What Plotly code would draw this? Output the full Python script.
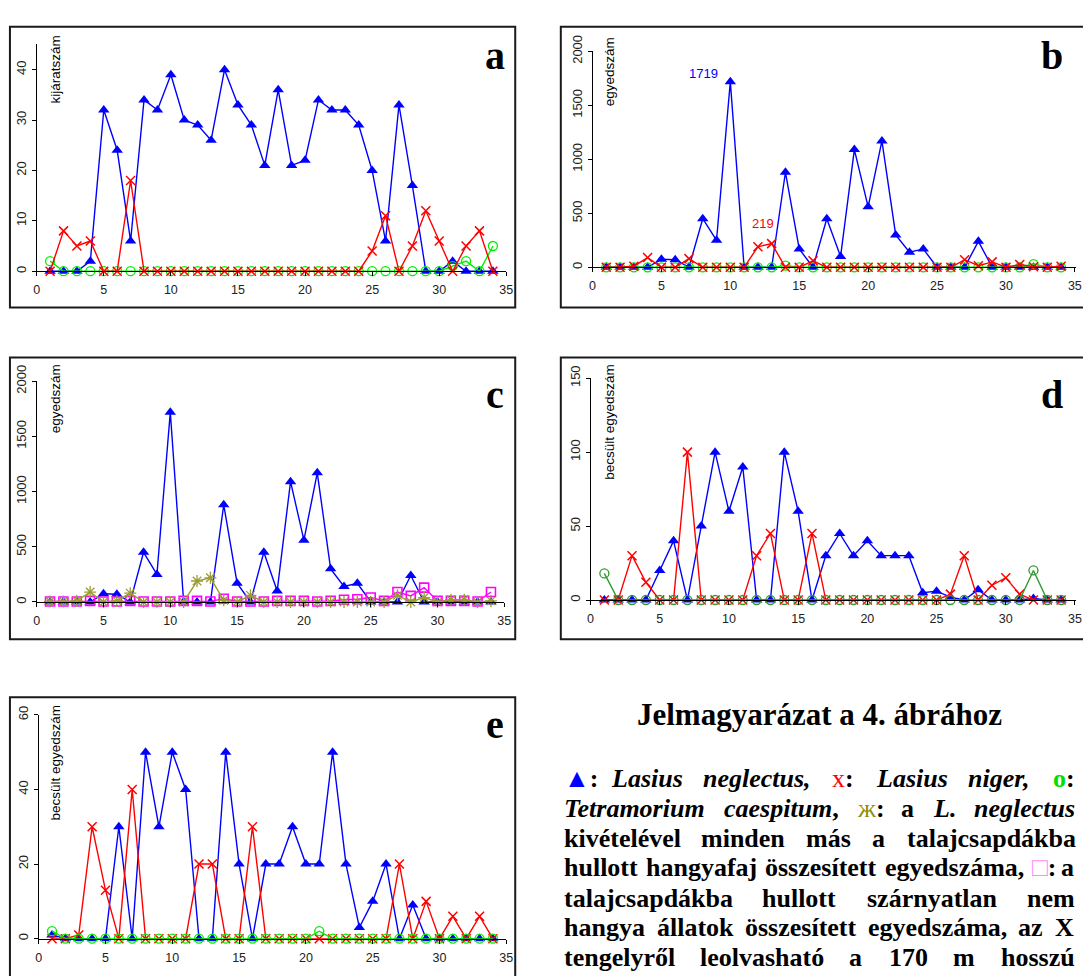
import plotly.graph_objects as go

# ---------------- data ----------------
positions = list(range(1, 35))
x_ticks = [0, 5, 10, 15, 20, 25, 30, 35]

# panel a: kijáratszám (nest entrances)
a_neglectus = [0, 0, 0, 2, 32, 24, 6, 34, 32, 39, 30, 29, 26, 40, 33, 29, 21, 36, 21, 22, 34, 32, 32, 29, 20, 6, 33, 17, 0, 0, 2, 0, 0, 0]
a_niger = [0, 8, 5, 6, 0, 0, 18, 0, 0, 0, 0, 0, 0, 0, 0, 0, 0, 0, 0, 0, 0, 0, 0, 0, 4, 11, 0, 5, 12, 6, 0, 5, 8, 0]
a_tetramorium = [2, 0, 0, 0, 0, 0, 0, 0, 0, 0, 0, 0, 0, 0, 0, 0, 0, 0, 0, 0, 0, 0, 0, 0, 0, 0, 0, 0, 0, 0, 1, 2, 0, 5]

# panel b: egyedszám (pitfall traps)
b_neglectus = [0, 0, 0, 0, 75, 70, 0, 450, 250, 1719, 0, 0, 0, 880, 170, 0, 450, 100, 1090, 560, 1170, 300, 140, 170, 0, 0, 0, 240, 0, 0, 0, 0, 0, 0]
b_niger = [0, 0, 10, 90, 0, 0, 80, 0, 0, 0, 0, 190, 219, 0, 0, 60, 0, 0, 0, 0, 0, 0, 0, 0, 0, 0, 70, 15, 50, 0, 25, 5, 0, 10]
b_tetramorium = [0, 0, 0, 0, 0, 0, 0, 0, 0, 0, 0, 0, 0, 15, 0, 0, 0, 0, 0, 0, 0, 0, 0, 0, 0, 0, 0, 0, 0, 0, 0, 30, 0, 0]

# panel c: egyedszám
c_neglectus = b_neglectus
c_other_ants = [5, 5, 10, 90, 0, 10, 80, 0, 0, 0, 0, 190, 219, 15, 0, 60, 0, 0, 0, 0, 0, 0, 0, 0, 0, 0, 60, 0, 40, 0, 20, 20, 0, 10]
c_non_ants = [5, 5, 5, 10, 5, 5, 10, 5, 5, 5, 10, 10, 5, 30, 5, 5, 5, 10, 10, 10, 5, 10, 20, 25, 40, 10, 90, 55, 130, 10, 10, 10, 5, 90]

# panel d: becsült egyedszám
d_neglectus = [0, 0, 0, 0, 20, 40, 0, 50, 100, 60, 90, 0, 0, 100, 60, 0, 30, 45, 30, 40, 30, 30, 30, 5, 6, 2, 0, 7, 0, 0, 0, 1, 0, 0]
d_niger = [0, 0, 30, 12, 0, 0, 100, 0, 0, 0, 0, 30, 45, 0, 0, 45, 0, 0, 0, 0, 0, 0, 0, 0, 0, 4, 30, 0, 10, 15, 4, 0, 0, 0]
d_tetramorium = [18, 0, 0, 0, 0, 0, 0, 0, 0, 0, 0, 0, 0, 0, 0, 0, 0, 0, 0, 0, 0, 0, 0, 0, 0, 0, 0, 0, 0, 0, 0, 20, 0, 0]

# panel e: becsült egyedszám
e_neglectus = [1, 0, 0, 0, 0, 30, 0, 50, 30, 50, 40, 0, 0, 50, 20, 0, 20, 20, 30, 20, 20, 50, 20, 3, 10, 20, 0, 9, 0, 0, 0, 0, 0, 0]
e_niger = [0, 0, 1, 30, 13, 0, 40, 0, 0, 0, 0, 20, 20, 0, 0, 30, 0, 0, 0, 0, 0, 0, 0, 0, 0, 0, 20, 0, 10, 0, 6, 0, 6, 0]
e_tetramorium = [2, 0, 0, 0, 0, 0, 0, 0, 0, 0, 0, 0, 0, 0, 0, 0, 0, 0, 0, 0, 2, 0, 0, 0, 0, 0, 0, 0, 0, 0, 0, 0, 0, 0]

y_titles = ["kijáratszám", "egyedszám", "egyedszám", "becsült egyedszám", "becsült egyedszám"]
panel_letters = ["a", "b", "c", "d", "e"]
y_ticks = [[0, 10, 20, 30, 40], [0, 500, 1000, 1500, 2000], [0, 500, 1000, 1500, 2000], [0, 50, 100, 150], [0, 20, 40, 60]]

legend_title = "Jelmagyarázat a 4. ábrához"
# legend words: list of segments (text, style, colour); style b = bold, bi = bold italic, r = regular
legend_words = [
    [[("▲", "sym", "#0000ff"), (":", "b", "black")], [("Lasius", "bi", "black")], [("neglectus,", "bi", "black")],
     [("x", "r", "#ff0000"), (":", "b", "black")], [("Lasius", "bi", "black")], [("niger,", "bi", "black")],
     [("o", "b", "#00dd00"), (":", "b", "black")]],
    [[("Tetramorium", "bi", "black")], [("caespitum", "bi", "black"), (",", "b", "black")],
     [("ж", "r", "#8f8f10"), (":", "b", "black")], [("a", "b", "black")], [("L.", "bi", "black")],
     [("neglectus", "bi", "black")]],
    [[("kivételével", "b", "black")], [("minden", "b", "black")], [("más", "b", "black")], [("a", "b", "black")],
     [("talajcsapdákba", "b", "black")]],
    [[("hullott", "b", "black")], [("hangyafaj", "b", "black")], [("összesített", "b", "black")],
     [("egyedszáma,", "b", "black")], [("□", "box", "#ff88ff"), (":", "b", "black")], [("a", "b", "black")]],
    [[("talajcsapdákba", "b", "black")], [("hullott", "b", "black")], [("szárnyatlan", "b", "black")],
     [("nem", "b", "black")]],
    [[("hangya", "b", "black")], [("állatok", "b", "black")], [("összesített", "b", "black")],
     [("egyedszáma,", "b", "black")], [("az", "b", "black")], [("X", "b", "black")]],
    [[("tengelyről", "b", "black")], [("leolvasható", "b", "black")], [("a", "b", "black")], [("170", "b", "black")],
     [("m", "b", "black")], [("hosszú", "b", "black")]],
]

# ---------------- layout helpers ----------------
W, H = 1083, 976
def px(v):
    return v / W
def py(v):
    return 1 - v / H

BLUE = "#0000ff"
RED = "#ff0000"
GREEN = "#00ee00"
DGREEN = "#2f9a2f"
OLIVE = "#9c9c30"
MAGENTA = "#ff00ff"

panels = [
    dict(xl=34, xr=508, xmax=35, yb=260, yt=29, ymax=45, frame=(7, 11, 517, 297), letter=(497, 55), ytitle=(53, 55)),
    dict(xl=595, xr=1083, xmax=(1083 - 595) / 13.91, yb=256, yt=36, ymax=2000, frame=(563, 11, 1100, 297), letter=(1059, 55), ytitle=(613, 57)),
    dict(xl=34, xr=506, xmax=35, yb=597, yt=372, ymax=2000, frame=(7, 348, 517, 635), letter=(497, 400), ytitle=(53, 390)),
    dict(xl=593, xr=1083, xmax=(1083 - 593) / 13.97, yb=595, yt=369, ymax=150, frame=(563, 348, 1100, 635), letter=(1059, 400), ytitle=(612, 413)),
    dict(xl=36, xr=508, xmax=35, yb=940, yt=712, ymax=60, frame=(7, 694, 517, 995), letter=(497, 736), ytitle=(53, 761)),
]

series = [
    [(a_neglectus, "tri", BLUE), (a_tetramorium, "circ", GREEN), (a_niger, "x", RED)],
    [(b_neglectus, "tri", BLUE), (b_tetramorium, "circ", GREEN), (b_niger, "x", RED)],
    [(c_neglectus, "tri", BLUE), (c_non_ants, "sq", MAGENTA), (c_other_ants, "ast", OLIVE)],
    [(d_neglectus, "tri", BLUE), (d_niger, "x", RED), (d_tetramorium, "circ", DGREEN)],
    [(e_neglectus, "tri", BLUE), (e_niger, "x", RED), (e_tetramorium, "circ", GREEN)],
]

def marker_for(kind, color):
    if kind == "tri":
        return dict(symbol="triangle-up", size=10, color=color, line=dict(width=0))
    if kind == "x":
        return dict(symbol="x-thin-open", size=9, color=color, line=dict(width=1.5, color=color))
    if kind == "circ":
        return dict(symbol="circle-open", size=9, color=color, line=dict(width=1.3, color=color))
    if kind == "ast":
        return dict(symbol="asterisk-open", size=10, color=color, line=dict(width=1.3, color=color))
    return dict(symbol="square-open", size=9, color=color, line=dict(width=1.6, color=color))

fig = go.Figure()
layout = dict(
    width=W, height=H, margin=dict(l=0, r=0, t=0, b=0),
    paper_bgcolor="white", plot_bgcolor="white", showlegend=False,
)
shapes = []
annotations = []
TICKFONT_X = dict(family="Liberation Sans, Arial, sans-serif", size=12.5, color="#222")
TICKFONT_Y = dict(family="Liberation Sans, Arial, sans-serif", size=13, color="#222")

for i, p in enumerate(panels):
    n = i + 1
    xa = "xaxis" if n == 1 else f"xaxis{n}"
    ya = "yaxis" if n == 1 else f"yaxis{n}"
    xr = "x" if n == 1 else f"x{n}"
    yr = "y" if n == 1 else f"y{n}"
    layout[xa] = dict(
        domain=[px(p["xl"]), px(p["xr"])], range=[0, p["xmax"]], anchor=yr,
        tickvals=x_ticks, ticks="outside", ticklen=4, tickwidth=1, tickcolor="black",
        showline=True, linecolor="black", linewidth=1, showgrid=False, zeroline=False,
        tickfont=TICKFONT_X, ticklabelstandoff=3, ticklabeloverflow="allow", fixedrange=True,
    )
    layout[ya] = dict(
        domain=[py(p["yb"]), py(p["yt"])], range=[0, p["ymax"]], anchor=xr,
        tickvals=y_ticks[i], ticks="outside", ticklen=4, tickwidth=1, tickcolor="black",
        showline=True, linecolor="black", linewidth=1, showgrid=False, zeroline=False,
        tickfont=TICKFONT_Y, tickangle=-90, fixedrange=True,
    )
    for vals, kind, color in series[i]:
        fig.add_trace(go.Scatter(
            x=positions, y=vals, xaxis=xr, yaxis=yr, mode="lines+markers",
            line=dict(color=color, width=1.4), marker=marker_for(kind, color),
            cliponaxis=False, hoverinfo="skip",
        ))
    fx0, fy0, fx1, fy1 = p["frame"]
    shapes.append(dict(type="rect", xref="paper", yref="paper",
                       x0=px(fx0), x1=px(fx1), y0=py(fy1), y1=py(fy0),
                       line=dict(color="#1a1a1a", width=2), fillcolor="rgba(0,0,0,0)", layer="above"))
    lx, lb = p["letter"]
    annotations.append(dict(text=f"<b>{panel_letters[i]}</b>", xref="paper", yref="paper",
                            x=px(lx), y=py(lb + 8.6), xanchor="center", yanchor="bottom",
                            showarrow=False, borderpad=0, borderwidth=0,
                            font=dict(family="Liberation Serif, Times New Roman, serif", size=40, color="black")))
    tx, ty = p["ytitle"]
    annotations.append(dict(text=y_titles[i], xref="paper", yref="paper", x=px(tx), y=py(ty),
                            xanchor="center", yanchor="middle", textangle=-90, showarrow=False,
                            borderpad=0, borderwidth=0,
                            font=dict(family="Liberation Sans, Arial, sans-serif", size=13.5, color="black")))

# value labels in panel b
annotations.append(dict(text="1719", xref="x2", yref="y2", x=8.05, y=1797, showarrow=False,
                        xanchor="center", yanchor="middle",
                        font=dict(family="Liberation Sans, Arial, sans-serif", size=13, color=BLUE)))
annotations.append(dict(text="219", xref="x2", yref="y2", x=12.4, y=410, showarrow=False,
                        xanchor="center", yanchor="middle",
                        font=dict(family="Liberation Sans, Arial, sans-serif", size=13, color=RED)))

# ---------------- legend text block (justified by hand) ----------------
SERIF = "Liberation Serif, Times New Roman, serif"
annotations.append(dict(text=f"<b>{legend_title}</b>", xref="paper", yref="paper",
                        x=px(824), y=py(723 + 6.7), xanchor="center", yanchor="bottom", showarrow=False,
                        borderpad=0, borderwidth=0, font=dict(family=SERIF, size=31, color="black")))

BOLD_W = dict(zip("abcdefghijklmnopqrstuvwxyz", [500, 556, 444, 556, 444, 333, 500, 556, 278, 333, 556, 278, 833,
                                                 556, 500, 556, 556, 444, 389, 333, 556, 500, 722, 500, 500, 444]))
BOLD_W.update({"X": 722, "T": 667, "L": 667, ",": 250, ".": 250, ":": 333, "0": 500, "1": 500, "7": 500})
BI_W = dict(zip("abcdefghijklmnopqrstuvwxyz", [500, 500, 444, 500, 444, 333, 500, 556, 278, 278, 500, 278, 778,
                                               556, 500, 500, 500, 389, 389, 278, 556, 444, 667, 500, 444, 389]))
BI_W.update({"T": 611, "L": 611, ",": 250, ".": 250})
ACC = str.maketrans("áéíóöőúüű", "aeiooouuu")

def seg_width(txt, style, fs):
    if style == "sym":
        return 0.62 * fs
    if style == "box":
        return 0.45 * fs
    if style == "r":
        return 0.62 * fs if txt == "ж" else 0.5 * fs
    table = BI_W if style == "bi" else BOLD_W
    return sum(table.get(ch, 500) for ch in txt.translate(ACC)) / 1000 * fs

def seg_markup(txt, style, col):
    if style == "bi":
        s = f"<b><i>{txt}</i></b>"
    elif style == "b":
        s = f"<b>{txt}</b>"
    else:
        s = txt
    if col != "black":
        s = f"<span style='color:{col}'>{s}</span>"
    return s

FS = 26
LEFT, RIGHT = 566, 1081
baselines = [786, 817, 847, 877, 908, 938, 968]
for baseline, words in zip(baselines, legend_words):
    widths = [sum(seg_width(t, s, FS) for t, s, _ in w) for w in words]
    gap = (RIGHT - LEFT - sum(widths)) / (len(words) - 1)
    xpos = LEFT
    for w, wd in zip(words, widths):
        annotations.append(dict(text="".join(seg_markup(t, s, c) for t, s, c in w), xref="paper", yref="paper",
                                x=px(xpos), y=py(baseline + 5.6), xanchor="left", yanchor="bottom",
                                showarrow=False, borderpad=0, borderwidth=0,
                                font=dict(family=SERIF, size=FS, color="black")))
        xpos += wd + gap

layout["shapes"] = shapes
layout["annotations"] = annotations
fig.update_layout(**layout)
fig.write_html("out.html", config={"displayModeBar": False, "staticPlot": True},
               post_script="document.body.style.margin='0';document.body.style.overflow='hidden';")
